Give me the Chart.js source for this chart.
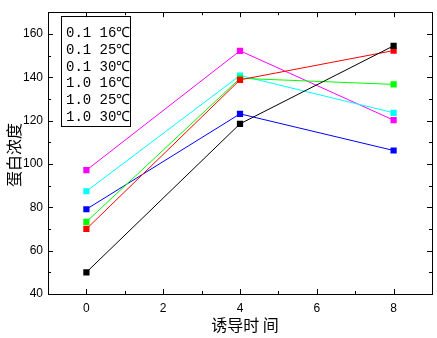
<!DOCTYPE html>
<html>
<head>
<meta charset="utf-8">
<script src="https://cdn.jsdelivr.net/npm/chart.js@4"></script>
<style>
  body { margin: 0; background: #fff; }
  #wrap { width: 437px; height: 338px; }
</style>
</head>
<body>
<div id="wrap"><canvas id="c" width="437" height="338"></canvas></div>
<script>
// time points (x) and protein concentration per series
var times = [0, 4, 8];
var xTicks = [0, 2, 4, 6, 8];
var yTicks = [40, 60, 80, 100, 120, 140, 160];
var labels = ['0.1 16\u2103', '0.1 25\u2103', '0.1 30\u2103', '1.0 16\u2103', '1.0 25\u2103', '1.0 30\u2103'];
var colors = ['#000000', '#ff0000', '#00ff00', '#0000ff', '#00ffff', '#ff00ff'];
var s1 = [50, 118.5, 154.5];
var s2 = [70, 138.8, 152.3];
var s3 = [73.3, 139.5, 136.7];
var s4 = [79.1, 123.1, 106.2];
var s5 = [87.4, 140.8, 123.6];
var s6 = [97.1, 152.2, 120.2];
var series = [s1, s2, s3, s4, s5, s6];

var datasets = series.map(function(vals, i) {
  return {
    label: labels[i],
    data: vals.map(function(v, j) { return { x: times[j], y: v }; }),
    borderColor: colors[i],
    backgroundColor: colors[i],
    borderWidth: 1,
    pointStyle: 'rect',
    pointRadius: 4.4,
    pointBorderWidth: 0,
    tension: 0
  };
});

// frame, inward ticks, axis titles and legend box
var framePlugin = {
  id: 'frame',
  afterDraw: function(chart) {
    var ctx = chart.ctx, a = chart.chartArea;
    var xs = chart.scales.x, ys = chart.scales.y;
    ctx.save();
    ctx.strokeStyle = '#000';
    ctx.lineWidth = 1;
    ctx.strokeRect(Math.round(a.left) + 0.5, Math.round(a.top) + 0.5,
      Math.round(a.right - a.left), Math.round(a.bottom - a.top));
    ctx.beginPath();
    for (var v = -1; v <= 9; v++) {
      var px = Math.round(xs.getPixelForValue(v)) + 0.5;
      var len = (v % 2 === 0) ? 5 : 3;
      ctx.moveTo(px, a.bottom); ctx.lineTo(px, a.bottom - len);
      ctx.moveTo(px, a.top); ctx.lineTo(px, a.top + len);
    }
    for (var w = 40; w <= 170; w += 10) {
      var py = Math.round(ys.getPixelForValue(w)) + 0.5;
      var l2 = (w % 20 === 0) ? 5 : 3;
      ctx.moveTo(a.left, py); ctx.lineTo(a.left + l2, py);
      ctx.moveTo(a.right, py); ctx.lineTo(a.right - l2, py);
    }
    ctx.stroke();

    // titles
    ctx.fillStyle = '#000';
    ctx.font = '16px "Noto Sans CJK SC"';
    ctx.textAlign = 'center';
    ctx.textBaseline = 'middle';
    ctx.fillText('诱导时 间', 245, 325);
    ctx.save();
    ctx.translate(14, 155);
    ctx.rotate(-Math.PI / 2);
    ctx.fillText('蛋白浓度', 0, 0);
    ctx.restore();

    // legend
    ctx.strokeRect(61.5, 16.5, 69, 110);
    ctx.font = '14px "Liberation Mono"';
    ctx.textAlign = 'left';
    for (var k = 0; k < labels.length; k++) {
      ctx.fillText(labels[k], 66, 33.5 + k * 16.7);
    }
    ctx.restore();
  }
};

new Chart(document.getElementById('c'), {
  type: 'line',
  data: { datasets: datasets },
  plugins: [framePlugin],
  options: {
    responsive: false,
    animation: false,
    layout: { padding: { left: 0, right: 5, top: 9, bottom: 0 } },
    plugins: { legend: { display: false }, tooltip: { enabled: false } },
    scales: {
      x: {
        type: 'linear', min: -1, max: 9,
        afterFit: function(s) { s.height = 44; },
        afterBuildTicks: function(s) { s.ticks = xTicks.map(function(v) { return { value: v }; }); },
        grid: { display: false, drawTicks: false },
        border: { display: false },
        ticks: {
          padding: 7, color: '#000',
          font: { family: 'Liberation Sans', size: 12 }
        }
      },
      y: {
        type: 'linear', min: 40, max: 170,
        afterFit: function(s) { s.width = 48; },
        afterBuildTicks: function(s) { s.ticks = yTicks.map(function(v) { return { value: v }; }); },
        grid: { display: false, drawTicks: false },
        border: { display: false },
        ticks: {
          padding: 5, color: '#000',
          font: { family: 'Liberation Sans', size: 12 }
        }
      }
    }
  }
});
</script>
</body>
</html>
